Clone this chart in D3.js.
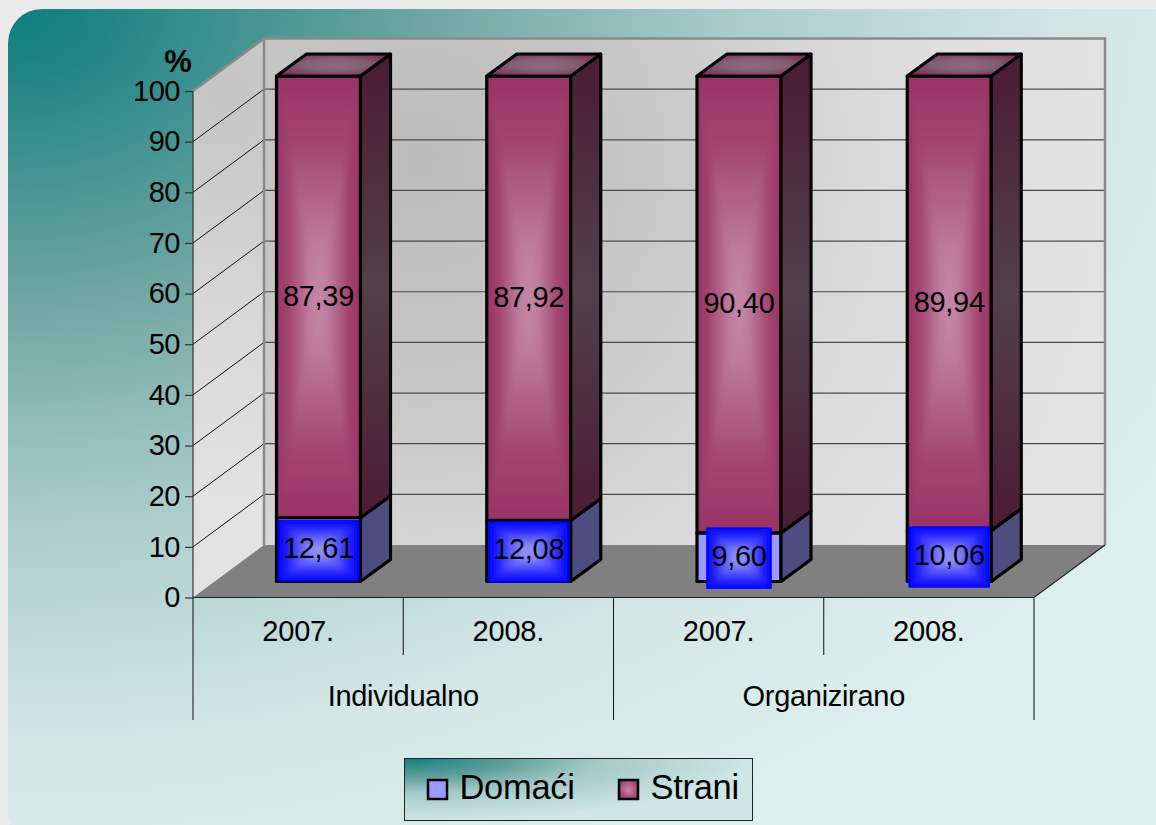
<!DOCTYPE html>
<html><head><meta charset="utf-8">
<script src="https://cdn.jsdelivr.net/npm/d3@7"></script>
<style>html,body{margin:0;padding:0;background:#ebebeb;overflow:hidden}svg{display:block}text{font-family:"Liberation Sans",Arial,sans-serif;fill:#000}</style>
</head><body><svg id="c" width="1156" height="825"></svg>
<script>
const years = ["2007.", "2008.", "2007.", "2008."];
const groups = ["Individualno", "Organizirano"];
const seriesNames = ["Domaći", "Strani"];
const domaci = [12.61, 12.08, 9.60, 10.06];
const strani = [87.39, 87.92, 90.40, 89.94];
const yTicks = [0,10,20,30,40,50,60,70,80,90,100];

const fmt = v => v.toFixed(2).replace(".", ",");
const svg = d3.select("#c");
const defs = svg.append("defs");

// plot geometry
const X0 = 193, X1 = 1034, YB = 597.5, YT = 91, DX = 71, DY = -52.5;
const FS = 29;
const yFront = d3.scaleLinear().domain([0,100]).range([YB,YT]);
const yBack = d3.scaleLinear().domain([0,100]).range([YB+DY,YT+DY]);
const yBar = d3.scaleLinear().domain([0,100]).range([581.5,76]);
const xBand = d3.scaleBand().domain(d3.range(years.length)).range([X0,X1]);
const barOffset = 83.5, barW = 84, sideX = 30, sideY = -22;

function stops(id, attrs, list, el){
  const g = defs.append(el||"linearGradient").attr("id",id);
  Object.entries(attrs).forEach(([k,v])=>g.attr(k,v));
  g.selectAll("stop").data(list).join("stop").attr("offset",d=>d[0]).attr("stop-color",d=>d[1]);
}
const bgStops = [[0,"#0f7f7f"],[.05,"#1a8282"],[.33,"#75a9a5"],[.54,"#a9cccb"],[.78,"#d2e6e4"],[1,"#dcefec"]];
stops("bg",{cx:0,cy:0,r:1.12,fx:0,fy:0},bgStops,"radialGradient");
stops("lg",{cx:0,cy:0,r:1,fx:0,fy:0},[[0,"#128080"],[.3,"#5f9f9c"],[.55,"#a3c9c7"],[1,"#cfe6e4"]],"radialGradient");
stops("wallBack",{gradientUnits:"userSpaceOnUse",cx:420,cy:160,r:700,fx:420,fy:160},[[0,"#bcbcbc"],[.3,"#c6c6c6"],[.7,"#dddddd"],[1,"#e3e3e3"]],"radialGradient");
stops("wallLeft",{gradientUnits:"userSpaceOnUse",cx:228,cy:90,r:420,fx:228,fy:90},[[0,"#c4c4c4"],[.55,"#d8d8d8"],[1,"#e3e3e3"]],"radialGradient");
const dirs = {t:{x1:0,y1:0,x2:0,y2:1},b:{x1:0,y1:1,x2:0,y2:0},l:{x1:0,y1:0,x2:1,y2:0},r:{x1:1,y1:0,x2:0,y2:0}};
const ramps = {
  mag:[[0,"#993366"],[.3,"#a24570"],[.75,"#bd7a9c"],[1,"#c78aa9"]],
  blue:[[0,"#0000ff"],[.25,"#2222ff"],[.8,"#8888ff"],[1,"#9c9cff"]]
};
Object.entries(ramps).forEach(([n,r])=>Object.entries(dirs).forEach(([d,a])=>stops(n+d,a,r)));
stops("sideMag",{x1:0,y1:0,x2:0,y2:1},[[0,"#4c1c32"],[.5,"#514049"],[1,"#4c1c32"]]);
stops("topMag",{cx:.5,cy:.5,r:.6,fx:.5,fy:.5},[[0,"#8a6c7a"],[.45,"#846073"],[1,"#7a2f58"]],"radialGradient");
stops("swMag",{cx:.5,cy:.5,r:.6,fx:.5,fy:.5},[[0,"#cc88aa"],[1,"#993366"]],"radialGradient");
const soft = defs.append("filter").attr("id","soft").attr("x",0).attr("y",0).attr("width",1).attr("height",1);
soft.append("feGaussianBlur").attr("stdDeviation",2);

// panel
svg.append("rect").attr("x",8).attr("y",9).attr("width",1200).attr("height",838).attr("rx",34).attr("fill","url(#bg)");

// walls
const line = d3.line();
const poly = p => line(p)+"Z";
svg.append("path").attr("d",poly([[X0+DX,yBack(100)],[X1+DX,yBack(100)],[X1+DX,yBack(0)],[X0+DX,yBack(0)]]))
  .attr("fill","url(#wallBack)");
svg.append("path").attr("d",poly([[X0,YT],[X0+DX,yBack(100)],[X0+DX,yBack(0)],[X0,YB]])).attr("fill","url(#wallLeft)");

// gridlines
svg.append("g").selectAll("line").data(yTicks.slice(1,-1)).join("line")
  .attr("x1",X0+DX).attr("x2",X1+DX).attr("y1",d=>yBack(d)).attr("y2",d=>yBack(d))
  .attr("stroke","#4a4a4a").attr("stroke-width",1.2);
svg.append("g").selectAll("line").data(yTicks.slice(1,-1)).join("line")
  .attr("x1",X0).attr("x2",X0+DX).attr("y1",d=>yFront(d)).attr("y2",d=>yBack(d))
  .attr("stroke","#111").attr("stroke-width",1);

// wall outlines
svg.append("path").attr("d",line([[X0,YT],[X0+DX,yBack(100)],[X1+DX,yBack(100)],[X1+DX,yBack(0)]]))
  .attr("fill","none").attr("stroke","#8a8a8a").attr("stroke-width",2.5);
svg.append("line").attr("x1",X0+DX).attr("x2",X0+DX).attr("y1",yBack(100)).attr("y2",yBack(0)).attr("stroke","#8a8a8a").attr("stroke-width",2.5);

// floor
svg.append("path").attr("d",poly([[X0,YB],[X0+DX,yBack(0)],[X1+DX,yBack(0)],[X1,YB]])).attr("fill","#808080");
svg.append("path").attr("d",line([[X0,YB],[X1,YB],[X1+DX,yBack(0)]])).attr("fill","none").attr("stroke","#222").attr("stroke-width",1.2);
svg.append("line").attr("x1",X0).attr("x2",X0).attr("y1",YT).attr("y2",YB).attr("stroke","#333").attr("stroke-width",1.2);

// y axis
const yAxis = d3.axisLeft(yFront).tickValues(yTicks).tickSize(8).tickPadding(5).tickFormat(d3.format("d"));
const ag = svg.append("g").attr("transform",`translate(${X0},0)`).call(yAxis);
ag.select(".domain").remove();
ag.selectAll("line").attr("stroke","#333").attr("stroke-width",1.2);
ag.selectAll("text").attr("font-size",FS).style("font-family",'"Liberation Sans",Arial,sans-serif').attr("fill","#000").attr("letter-spacing",-.5);
svg.append("text").attr("x",178).attr("y",72).attr("text-anchor","middle").attr("font-size",31).attr("font-weight","bold").text("%");

// multi-level category axis
const edges = d3.range(years.length+1).map(i=> i<years.length ? xBand(i) : X1);
svg.append("g").selectAll("line").data(edges).join("line")
  .attr("x1",d=>d).attr("x2",d=>d).attr("y1",YB).attr("y2",(d,i)=>i%2===0?720:655)
  .attr("stroke","#111").attr("stroke-width",1);
svg.append("g").selectAll("text").data(years).join("text")
  .attr("x",(d,i)=>xBand(i)+xBand.bandwidth()/2).attr("y",641).attr("text-anchor","middle")
  .attr("font-size",FS).attr("letter-spacing",-.2).text(d=>d);
svg.append("g").selectAll("text").data(groups).join("text")
  .attr("x",(d,i)=>xBand(i*2)+xBand.bandwidth()).attr("y",706).attr("text-anchor","middle")
  .attr("font-size",FS).attr("letter-spacing",-.3).text(d=>d);

// bars
function gradFace(g,x,y,w,h,n){
  const c=[x+w/2,y+h/2], a=[x,y], b=[x+w,y], d=[x+w,y+h], e=[x,y+h];
  g.append("rect").attr("x",x).attr("y",y).attr("width",w).attr("height",h).attr("fill",n==="mag"?"#993366":"#0000ff");
  const s=g.append("g").attr("filter","url(#soft)");
  [["t",[a,b,c]],["r",[b,d,c]],["b",[d,e,c]],["l",[e,a,c]]].forEach(([k,p])=>{
    s.append("path").attr("d",poly(p)).attr("fill",`url(#${n}${k})`);
  });
}
const outline = {stroke:"#000","stroke-width":3.2,"stroke-linejoin":"round"};
const applyO = s => Object.entries(outline).forEach(([k,v])=>s.attr(k,v));
const barsG = svg.append("g"), labelsG = svg.append("g");
years.forEach((_,i)=>{
  const x = xBand(i)+barOffset, x2=x+barW;
  const y0=yBar(0), y1=yBar(domaci[i]), y2=yBar(domaci[i]+strani[i]);
  const g = barsG.append("g");
  // Domaći
  g.append("rect").attr("x",x).attr("y",y1).attr("width",barW).attr("height",y0-y1).attr("fill","#9999ff").call(applyO);
  g.append("path").attr("d",poly([[x2,y0],[x2+sideX,y0+sideY],[x2+sideX,y1+sideY],[x2,y1]])).attr("fill","#4d4d80").call(applyO);
  // Strani
  gradFace(g,x,y2,barW,y1-y2,"mag");
  g.append("rect").attr("x",x).attr("y",y2).attr("width",barW).attr("height",y1-y2).attr("fill","none").call(applyO);
  g.append("path").attr("d",poly([[x2,y1],[x2+sideX,y1+sideY],[x2+sideX,y2+sideY],[x2,y2]])).attr("fill","url(#sideMag)").call(applyO);
  g.append("path").attr("d",poly([[x,y2],[x+sideX,y2+sideY],[x2+sideX,y2+sideY],[x2,y2]])).attr("fill","url(#topMag)").call(applyO);

  // labels
  const cx=x+barW/2;
  const lg = labelsG.append("g");
  const t1 = lg.append("text").attr("x",cx).attr("text-anchor","middle").attr("font-size",FS).attr("letter-spacing",-.3).text(fmt(domaci[i]));
  const w = t1.node().getComputedTextLength();
  const boxW = Math.min(w+10,85), boxH=61, boxY=(y0+y1)/2+1-boxH/2;
  const boxG = lg.insert("g","text");
  gradFace(boxG,cx-boxW/2,boxY,boxW,boxH,"blue");
  t1.attr("y",boxY+boxH/2+7.5);
  lg.append("text").attr("x",cx).attr("y",(y1+y2)/2+9).attr("text-anchor","middle").attr("font-size",FS).attr("letter-spacing",-.3).text(fmt(strani[i]));
});

// legend
const lgd = svg.append("g");
lgd.append("rect").attr("x",404.5).attr("y",758.5).attr("width",348).attr("height",62).attr("fill","url(#lg)").attr("stroke","#222").attr("stroke-width",1);
const swX = d3.scalePoint().domain(seriesNames).range([428,619]);
lgd.selectAll("rect.sw").data(seriesNames).join("rect").attr("class","sw")
  .attr("x",d=>swX(d)).attr("y",780).attr("width",19).attr("height",19)
  .attr("fill",(d,i)=>i?"url(#swMag)":"#9999ff").attr("stroke","#000").attr("stroke-width",2.5);
lgd.selectAll("text").data(seriesNames).join("text")
  .attr("x",d=>swX(d)+31.5).attr("y",799).attr("font-size",34.5).attr("letter-spacing",-.3).text(d=>d);
</script></body></html>
